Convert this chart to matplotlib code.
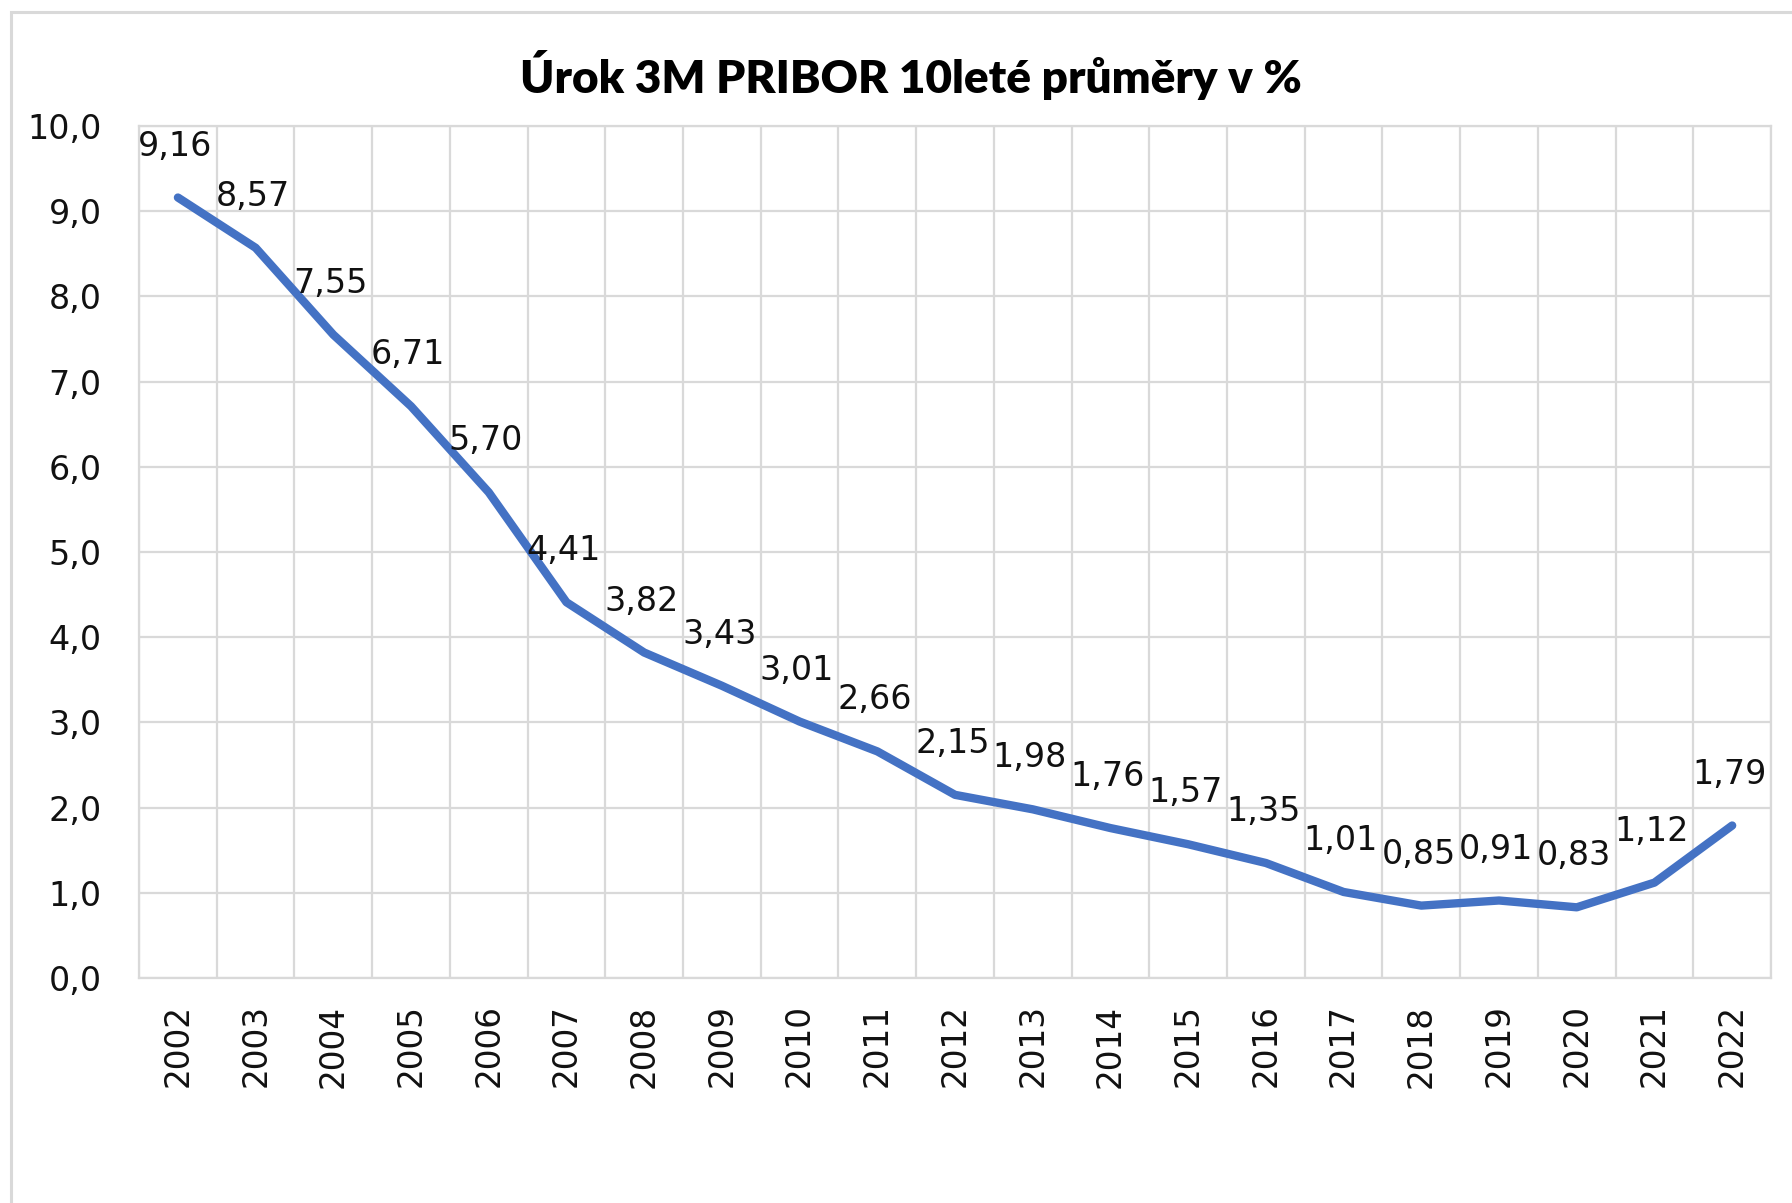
import matplotlib.pyplot as plt
from matplotlib.patches import Rectangle

years = [str(y) for y in range(2002, 2023)]
rates = [9.16, 8.57, 7.55, 6.71, 5.70, 4.41, 3.82, 3.43, 3.01, 2.66, 2.15,
         1.98, 1.76, 1.57, 1.35, 1.01, 0.85, 0.91, 0.83, 1.12, 1.79]
yticks = [0, 1, 2, 3, 4, 5, 6, 7, 8, 9, 10]

blue = '#4472C4'
grid = '#D9D9D9'

fig = plt.figure(figsize=(17.92, 12.03), dpi=100)
ax = fig.add_axes([0.0776, 0.187, 0.9107, 0.7083])

x = list(range(len(years)))
ax.plot(x, rates, color=blue, lw=6, solid_joinstyle='round', solid_capstyle='round', zorder=3)

for xi, v in zip(x, rates):
    ax.annotate(f'{v:.2f}'.replace('.', ','), (xi, v), xytext=(-2, 37),
                textcoords='offset points', ha='center', va='center',
                fontsize=24, color='#111111', zorder=4)

ax.set_xlim(-0.5, len(years) - 0.5)
ax.set_ylim(0, 10)
ax.set_xticks(x)
ax.set_xticklabels(years, rotation=90, fontsize=23.5, color='#111111')
ax.set_yticks(yticks)
ax.set_yticklabels([f'{t:.1f}'.replace('.', ',') for t in yticks], fontsize=24, color='#111111')
ax.tick_params(axis='x', length=0, pad=19)
ax.tick_params(axis='y', length=0, pad=27)

# vertical gridlines sit between categories
ax.set_xticks([i + 0.5 for i in range(-1, len(years))], minor=True)
ax.tick_params(axis='x', which='minor', length=0)
ax.grid(True, which='minor', axis='x', color=grid, lw=1.6)
ax.grid(True, which='major', axis='y', color=grid, lw=1.6)
ax.set_axisbelow(True)
for s in ax.spines.values():
    s.set_color(grid)
    s.set_linewidth(1.6)

fig.text(0.5085, 0.938, 'Úrok 3M PRIBOR 10leté průměry v %', ha='center', va='center',
         fontsize=33, fontweight='heavy', family=['Lato', 'DejaVu Sans'], color='#000000')

fig.patches.append(Rectangle((11 / 1792, -0.1), 1.2, 1.1 - 12 / 1203, transform=fig.transFigure,
                             fill=False, edgecolor=grid, lw=2.2))

fig.savefig('out.png', dpi=100)
